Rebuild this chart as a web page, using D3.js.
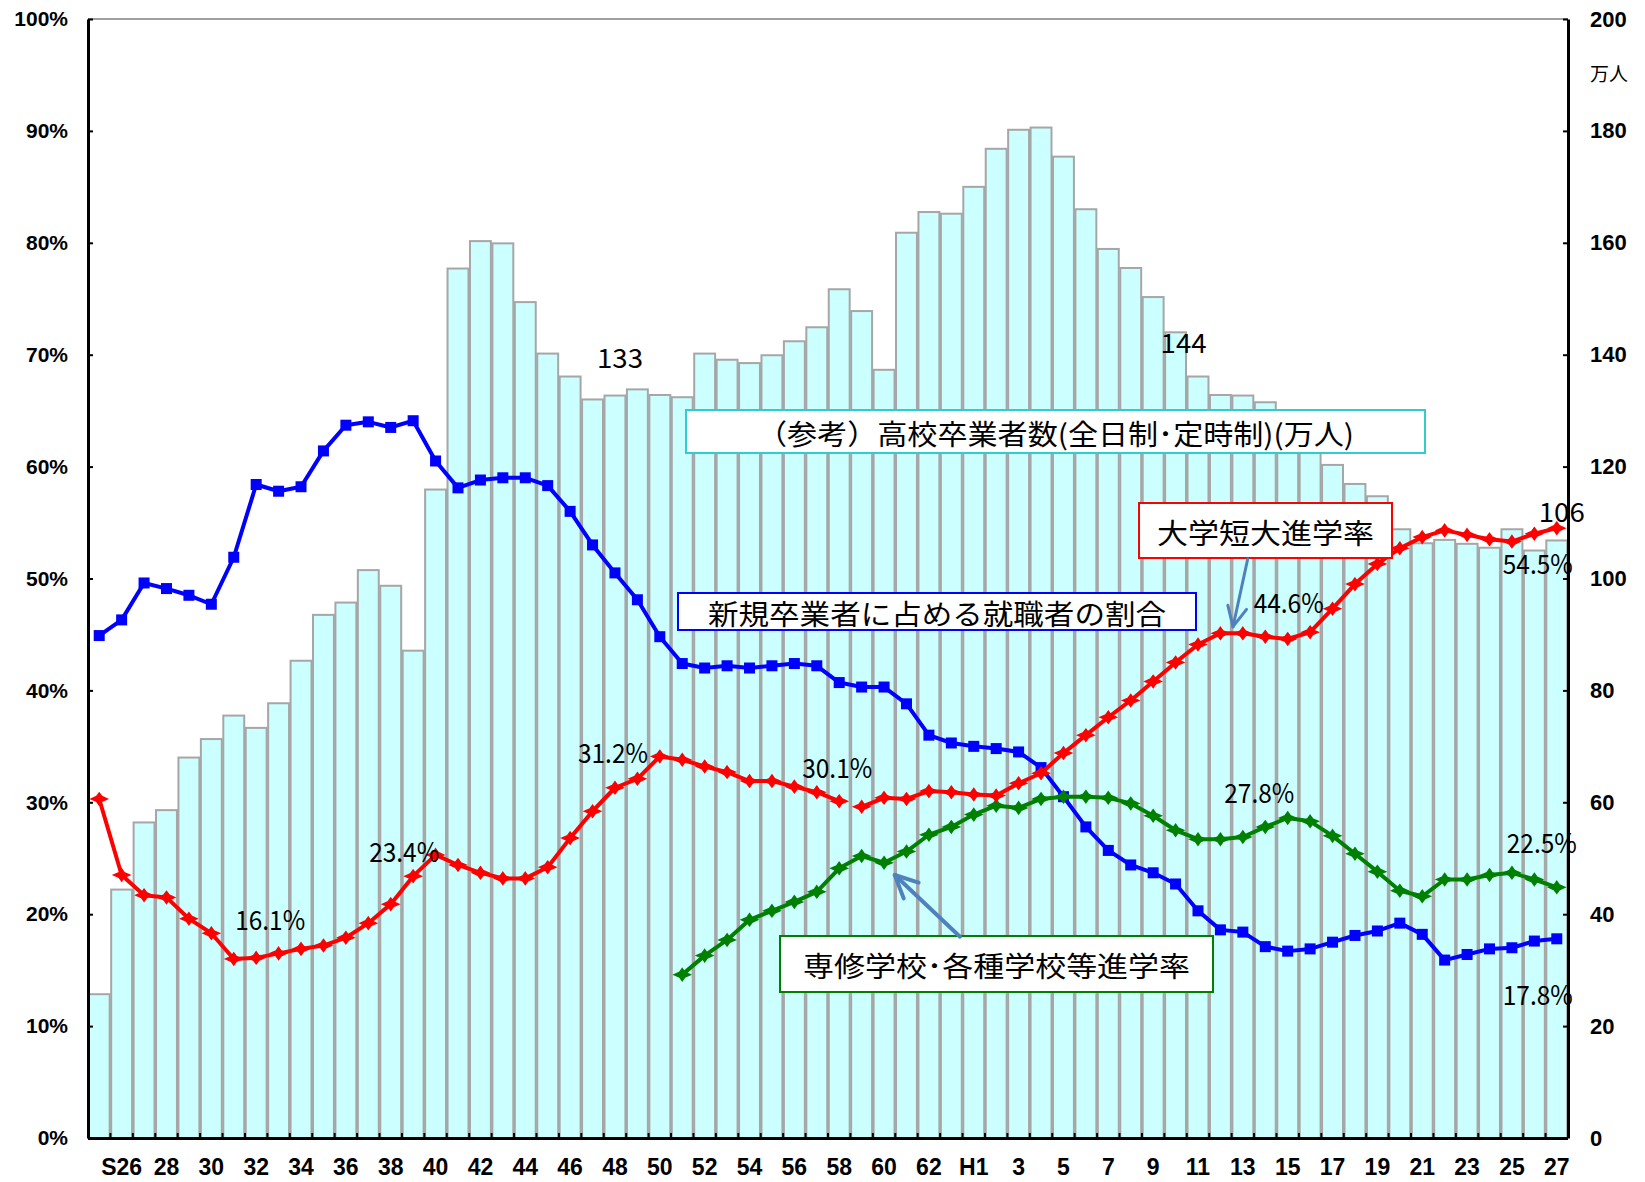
<!DOCTYPE html>
<html><head><meta charset="utf-8">
<script src="https://cdn.jsdelivr.net/npm/d3@7"></script>
<style>body{margin:0;background:#fff}svg{display:block}</style>
</head><body>
<svg id="chart" width="1645" height="1182"></svg>
<script>
// ---------- DATA ----------
const categories = ["S25","S26","S27","S28","S29","S30","S31","S32","S33","S34","S35","S36","S37","S38","S39",
  "S40","S41","S42","S43","S44","S45","S46","S47","S48","S49","S50","S51","S52","S53","S54","S55","S56","S57",
  "S58","S59","S60","S61","S62","S63","H1","H2","H3","H4","H5","H6","H7","H8","H9","H10","H11","H12","H13",
  "H14","H15","H16","H17","H18","H19","H20","H21","H22","H23","H24","H25","H26","H27"];

const xTickCategories = ["S26","S28","S30","S32","S34","S36","S38","S40","S42","S44","S46","S48","S50","S52",
  "S54","S56","S58","S60","S62","H1","H3","H5","H7","H9","H11","H13","H15","H17","H19","H21","H23","H25","H27"];
const xTickLabels = ["S26","28","30","32","34","36","38","40","42","44","46","48","50","52",
  "54","56","58","60","62","H1","3","5","7","9","11","13","15","17","19","21","23","25","27"];

const leftTicks = [0,10,20,30,40,50,60,70,80,90,100];
const rightTicks = [0,20,40,60,80,100,120,140,160,180,200];

// 高校卒業者数 (万人)
const graduates = [25.7,44.4,56.4,58.6,68.0,71.3,75.5,73.3,77.7,85.3,93.5,95.7,101.5,98.7,87.1,
  115.9,155.4,160.3,159.9,149.4,140.2,136.1,132.0,132.7,133.8,132.8,132.4,140.2,139.1,138.5,139.9,142.4,144.9,
  151.7,147.8,137.3,161.8,165.5,165.2,170.0,176.8,180.2,180.6,175.4,166.0,158.9,155.5,150.3,144.0,136.1,132.8,132.7,
  131.5,128.1,123.5,120.3,116.9,114.7,108.8,106.3,106.9,106.2,105.5,108.8,105.0,106.8];

// 新規卒業者に占める就職者の割合 (%)
const employmentRate = [44.9,46.3,49.6,49.1,48.5,47.7,51.9,58.4,57.8,58.2,61.4,63.7,64.0,63.5,64.1,
  60.5,58.1,58.8,59.0,59.0,58.3,56.0,53.0,50.5,48.1,44.8,42.4,42.0,42.2,42.0,42.2,42.4,42.2,
  40.7,40.3,40.3,38.8,36.0,35.3,35.0,34.8,34.5,33.1,30.5,27.8,25.7,24.4,23.7,22.7,20.3,18.6,18.4,
  17.1,16.7,16.9,17.5,18.1,18.5,19.2,18.2,15.9,16.4,16.9,17.0,17.6,17.8];

// 大学短大進学率 (%)  (series restarts at S59)
const universityRate = [30.3,23.5,21.7,21.5,19.6,18.3,16.0,16.1,16.5,16.9,17.2,17.9,19.2,20.9,23.4,
  25.3,24.4,23.7,23.2,23.2,24.2,26.8,29.2,31.3,32.1,34.1,33.8,33.2,32.7,31.9,31.9,31.4,30.9,
  30.1,29.6,30.4,30.3,31.0,30.9,30.7,30.6,31.7,32.6,34.4,36.0,37.6,39.1,40.8,42.5,44.1,45.1,45.1,
  44.8,44.6,45.2,47.3,49.5,51.3,52.7,53.7,54.3,53.9,53.5,53.3,54.0,54.5];
const universityRestart = "S59";

// 専修学校・各種学校等進学率 (%)
const vocationalRate = [null,null,null,null,null,null,null,null,null,null,null,null,null,null,null,
  null,null,null,null,null,null,null,null,null,null,null,14.6,16.3,17.7,19.5,20.3,21.1,22.0,
  24.1,25.2,24.6,25.6,27.1,27.8,28.9,29.7,29.5,30.3,30.5,30.5,30.4,29.9,28.8,27.5,26.7,26.7,26.9,
  27.8,28.6,28.3,27.0,25.4,23.8,22.1,21.6,23.1,23.1,23.5,23.7,23.1,22.4];

const legendTexts = ["（参考）高校卒業者数(全日制･定時制)(万人)","新規卒業者に占める就職者の割合","大学短大進学率","専修学校･各種学校等進学率"];
const dataLabelTexts = ["16.1%","23.4%","31.2%","30.1%","133","144","106","44.6%","54.5%","27.8%","22.5%","17.8%"];

// ---------- LAYOUT ----------
const L = 88, R = 1568, T = 19, B = 1138;
const colors = {bar:"#CCFFFF", barStroke:"#A6A6A6", employment:"#0000FF", university:"#FF0000", vocational:"#008000", arrow:"#4F81BD"};

const svg = d3.select("#chart");
const x = d3.scaleBand().domain(categories).range([L, R]).padding(0);
const yP = d3.scaleLinear().domain([0, 100]).range([B, T]);
const yN = d3.scaleLinear().domain([0, 200]).range([B, T]);
const cx = c => x(c) + x.bandwidth() / 2;

// bars
svg.append("g").selectAll("rect").data(categories).join("rect")
  .attr("x", c => x(c) + 0.75)
  .attr("width", x.bandwidth() - 1.5)
  .attr("y", (c, i) => yN(graduates[i]))
  .attr("height", (c, i) => B - yN(graduates[i]))
  .attr("fill", colors.bar).attr("stroke", colors.barStroke).attr("stroke-width", 2);

// top border
svg.append("line").attr("x1", L).attr("x2", R).attr("y1", T).attr("y2", T)
  .attr("stroke", "#A0A0A0").attr("stroke-width", 2);

// left axis
const gL = svg.append("g").attr("transform", `translate(${L},0)`)
  .call(d3.axisLeft(yP).tickValues(leftTicks).tickFormat(d => d + "%").tickSize(-5).tickSizeOuter(0).tickPadding(20));
// right axis
const gR = svg.append("g").attr("transform", `translate(${R},0)`)
  .call(d3.axisRight(yN).tickValues(rightTicks).tickFormat(d => d).tickSize(-5).tickSizeOuter(0).tickPadding(22));
// bottom axis (labels)
const gB = svg.append("g").attr("transform", `translate(0,${B})`)
  .call(d3.axisBottom(x).tickValues(xTickCategories).tickFormat((c) => xTickLabels[xTickCategories.indexOf(c)]).tickSize(0).tickSizeOuter(0).tickPadding(21));
gB.select(".domain").attr("d", `M${L},0.5H${R}`);
// bottom boundary ticks
svg.append("g").selectAll("line").data(categories.slice(1)).join("line")
  .attr("x1", c => x(c)).attr("x2", c => x(c)).attr("y1", B).attr("y2", B - 5)
  .attr("stroke", "#000").attr("stroke-width", 2);

[gL, gR, gB].forEach(g => {
  g.select(".domain").attr("stroke", "#000").attr("stroke-width", 3);
  g.selectAll(".tick line").attr("stroke", "#000").attr("stroke-width", 2);
  g.selectAll("text").attr("font-family", "'Liberation Sans', Arial, sans-serif").attr("font-weight", "bold").attr("fill", "#000");
});
gL.selectAll("text").attr("font-size", 21);
gR.selectAll("text").attr("font-size", 22);
gB.selectAll("text").attr("font-size", 23);

svg.append("text").attr("x", 1590).attr("y", 72).attr("dominant-baseline", "central")
  .attr("font-family", "'Noto Sans CJK JP', sans-serif").attr("font-size", 19).text("万人");

// series
const starPath = "M0,-6L2.6,-2.4L8,0L2.6,2.4L0,6L-2.6,2.4L-8,0L-2.6,-2.4Z";
function drawSeries(values, color, marker, segments) {
  const g = svg.append("g");
  const line = d3.line().defined(d => d.v != null).x(d => cx(d.c)).y(d => yP(d.v));
  const pts = categories.map((c, i) => ({c, v: values[i]}));
  segments.forEach(([a, b]) => {
    g.append("path").datum(pts.slice(a, b)).attr("d", line)
      .attr("fill", "none").attr("stroke", color).attr("stroke-width", 4).attr("stroke-linejoin", "round");
  });
  const mp = pts.filter(d => d.v != null);
  if (marker === "square") {
    g.selectAll("rect").data(mp).join("rect")
      .attr("x", d => cx(d.c) - 5.5).attr("y", d => yP(d.v) - 5.5).attr("width", 11).attr("height", 11).attr("fill", color);
  } else {
    g.selectAll("path.m").data(mp).join("path").attr("class", "m")
      .attr("transform", d => `translate(${cx(d.c)},${yP(d.v)})`).attr("d", starPath)
      .attr("fill", color).attr("stroke", color).attr("stroke-width", 1.5);
  }
}
const br = categories.indexOf(universityRestart);
drawSeries(employmentRate, colors.employment, "square", [[0, categories.length]]);
drawSeries(vocationalRate, colors.vocational, "star", [[0, categories.length]]);
drawSeries(universityRate, colors.university, "star", [[0, br], [br, categories.length]]);

// legend boxes
const boxes = [
  {x: 686, y: 410, w: 739, h: 43, color: "#33CCCC", tw: 597},
  {x: 678, y: 593, w: 518, h: 37, color: "#0000FF", tw: 458},
  {x: 1139, y: 503, w: 253, h: 55, color: "#FF0000", tw: 217},
  {x: 780, y: 936, w: 433, h: 56, color: "#008000", tw: 387}
];
boxes.forEach((b, i) => {
  svg.append("rect").attr("x", b.x).attr("y", b.y).attr("width", b.w).attr("height", b.h)
    .attr("fill", "#fff").attr("stroke", b.color).attr("stroke-width", 2);
  svg.append("text").attr("x", b.x + b.w / 2 - b.tw / 2).attr("y", b.y + b.h / 2 + 1)
    .attr("dominant-baseline", "central")
    .attr("font-family", "'Noto Sans CJK JP', sans-serif").attr("font-size", 28)
    .attr("textLength", b.tw).attr("lengthAdjust", "spacingAndGlyphs").text(legendTexts[i]);
});

// data labels anchored at data points
const seriesVals = {graduates: [graduates, yN], employment: [employmentRate, yP], university: [universityRate, yP], vocational: [vocationalRate, yP]};
const labelAnchors = [
  {s: "university", c: "S32", dx: 14, dy: -28},
  {s: "university", c: "S39", dx: -9, dy: -14},
  {s: "university", c: "S48", dx: -2, dy: -25},
  {s: "university", c: "S58", dx: -2, dy: -23},
  {s: "graduates", c: "S48", dx: 5, dy: -28},
  {s: "graduates", c: "H10", dx: 8, dy: 21},
  {s: "graduates", c: "H27", dx: 5, dy: -18},
  {s: "university", c: "H15", dx: 1, dy: -26},
  {s: "university", c: "H27", dx: -19, dy: 46},
  {s: "vocational", c: "H14", dx: -6, dy: -24},
  {s: "vocational", c: "H27", dx: -15, dy: -34},
  {s: "employment", c: "H27", dx: -19, dy: 66}
];
labelAnchors.forEach((a, i) => {
  const [vals, sc] = seriesVals[a.s];
  const v = vals[categories.indexOf(a.c)];
  const t = dataLabelTexts[i];
  const w = t.includes("%") ? 70 : 46;
  svg.append("text").attr("x", cx(a.c) + a.dx - w / 2).attr("y", sc(v) + a.dy)
    .attr("font-family", "'Noto Sans CJK JP', sans-serif").attr("font-size", 27)
    .attr("textLength", w).attr("lengthAdjust", "spacingAndGlyphs").text(t);
});

// arrows
function arrow(x1, y1, x2, y2, w, head) {
  const g = svg.append("g").attr("stroke", colors.arrow).attr("stroke-width", w).attr("fill", "none").attr("stroke-linecap", "round");
  g.append("line").attr("x1", x1).attr("y1", y1).attr("x2", x2).attr("y2", y2);
  const ang = Math.atan2(y1 - y2, x1 - x2);
  [-0.45, 0.45].forEach(d => {
    g.append("line").attr("x1", x2).attr("y1", y2)
      .attr("x2", x2 + head * Math.cos(ang + d)).attr("y2", y2 + head * Math.sin(ang + d));
  });
}
arrow(1247.7, 559, 1233, 626.7, 3, 22);
arrow(960, 936.7, 894.8, 875, 4, 25);
</script>
</body></html>
